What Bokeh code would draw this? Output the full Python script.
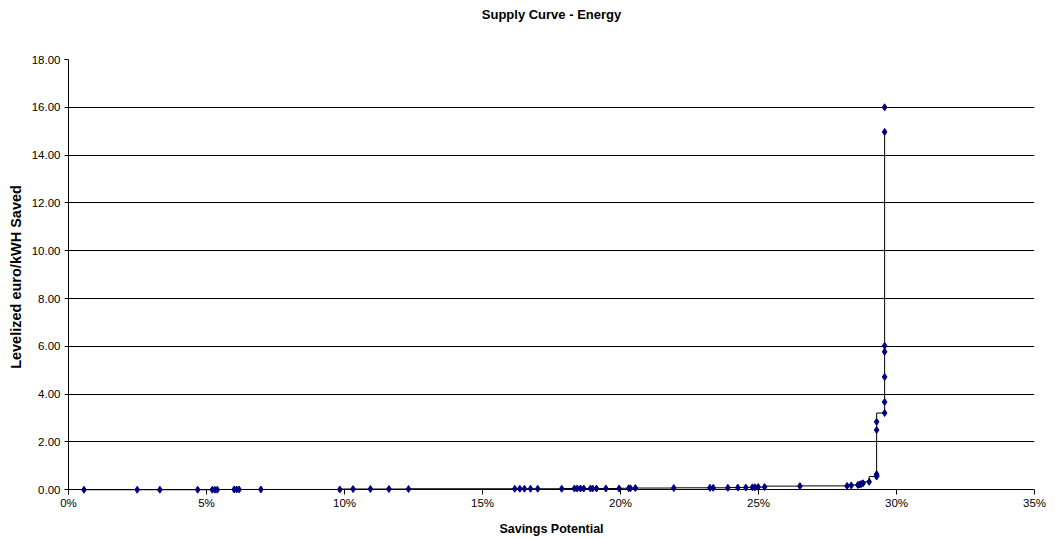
from bokeh.plotting import figure
from bokeh.models import FixedTicker, PrintfTickFormatter, Range1d, LinearAxis
from bokeh.embed import file_html
from bokeh.resources import INLINE

# Cumulative savings potential (%) and levelized cost (euro/kWh saved)
savings = [0.56, 2.49, 3.31, 4.68, 5.21, 5.30, 5.39, 6.00, 6.09, 6.18, 6.97,
           9.83, 10.31, 10.94, 11.61, 12.32,
           16.17, 16.35, 16.52, 16.74, 17.00, 17.87, 18.33, 18.43, 18.55, 18.67,
           18.91, 18.99, 19.13, 19.47, 19.95, 20.30, 20.36, 20.54, 21.93,
           23.24, 23.36, 23.89, 24.25, 24.54, 24.78, 24.87, 24.99, 25.22, 26.50,
           28.21, 28.36, 28.60, 28.67, 28.72, 28.79, 29.01,
           29.28, 29.28, 29.28, 29.28, 29.28,
           29.57, 29.57, 29.57, 29.57, 29.57, 29.57, 29.57]
cost = [0.00, 0.00, 0.00, 0.00, 0.00, 0.00, 0.00, 0.01, 0.01, 0.01, 0.01,
        0.01, 0.03, 0.03, 0.03, 0.03,
        0.04, 0.04, 0.04, 0.04, 0.04, 0.04, 0.05, 0.05, 0.05, 0.05,
        0.05, 0.05, 0.05, 0.05, 0.05, 0.06, 0.06, 0.07, 0.07,
        0.08, 0.08, 0.08, 0.09, 0.09, 0.10, 0.10, 0.11, 0.11, 0.15,
        0.16, 0.18, 0.20, 0.22, 0.24, 0.27, 0.33,
        0.55, 0.60, 0.65, 2.50, 2.84,
        3.21, 3.67, 4.72, 5.77, 6.02, 14.97, 16.00]

x_ticks = [0, 5, 10, 15, 20, 25, 30, 35]
y_ticks = [0, 2, 4, 6, 8, 10, 12, 14, 16, 18]
title_text = "Supply Curve - Energy"

FONT = "Liberation Sans"

p = figure(width=1055, height=538, output_backend="svg", toolbar_location=None,
           x_range=Range1d(0, 35), y_range=Range1d(-0.2, 18),
           min_border_left=68, min_border_right=21, min_border_top=59,
           min_border_bottom=44)
p.outline_line_color = None
p.background_fill_color = "white"
p.border_fill_color = "white"

# gridlines
p.xgrid.visible = False
p.ygrid.ticker = FixedTicker(ticks=y_ticks)
p.ygrid.grid_line_color = "#000000"
p.ygrid.grid_line_width = 1

# axes
xax = p.below[0]
yax = p.left[0]
xax.ticker = FixedTicker(ticks=x_ticks)
xax.formatter = PrintfTickFormatter(format="%d%%")
yax.ticker = FixedTicker(ticks=y_ticks)
yax.formatter = PrintfTickFormatter(format="%.2f")
for ax in (xax, yax):
    ax.axis_line_color = "#000000"
    ax.axis_line_width = 1
    ax.major_tick_line_color = "#000000"
    ax.minor_tick_line_color = None
    ax.major_label_text_font = FONT
    ax.major_label_text_font_size = "11.5px"
    ax.major_label_text_color = "#000000"
    ax.axis_label_text_font = FONT
    ax.axis_label_text_font_style = "bold"
    ax.axis_label_text_color = "#000000"
xax.axis_label_text_font_size = "12.5px"
yax.axis_label_text_font_size = "14.5px"
yax.major_tick_out = 4
yax.major_tick_in = 0
# x ticks hang from the zero line down to the frame edge
xax.axis_line_color = None
xax.major_tick_out = 0
xax.major_tick_in = 5
xax.axis_label = "Savings Potential"
yax.axis_label = "Levelized euro/kWH Saved"
xax.major_label_standoff = 2
yax.major_label_standoff = 4
xax.axis_label_standoff = 10
yax.axis_label_standoff = 5

# chart title: a tick-less axis above the plot area carries the title text
title_axis = LinearAxis(ticker=FixedTicker(ticks=[]), axis_label=title_text,
                        axis_line_color=None, major_tick_line_color=None,
                        minor_tick_line_color=None, major_label_text_font_size="0px",
                        major_tick_out=0, major_tick_in=0, major_label_standoff=0,
                        axis_label_standoff=38,
                        axis_label_text_font=FONT, axis_label_text_font_size="13px",
                        axis_label_text_font_style="bold",
                        axis_label_text_color="#000000")
p.add_layout(title_axis, "above")

# step curve (last point is not joined) and markers
p.step(savings[:-1], cost[:-1], mode="before", line_color="#000000", line_width=1)
p.scatter(savings, cost, marker="diamond", size=7, fill_color="#000080",
          line_color="#000080")

open("out.html", "w").write(file_html(p, INLINE))
